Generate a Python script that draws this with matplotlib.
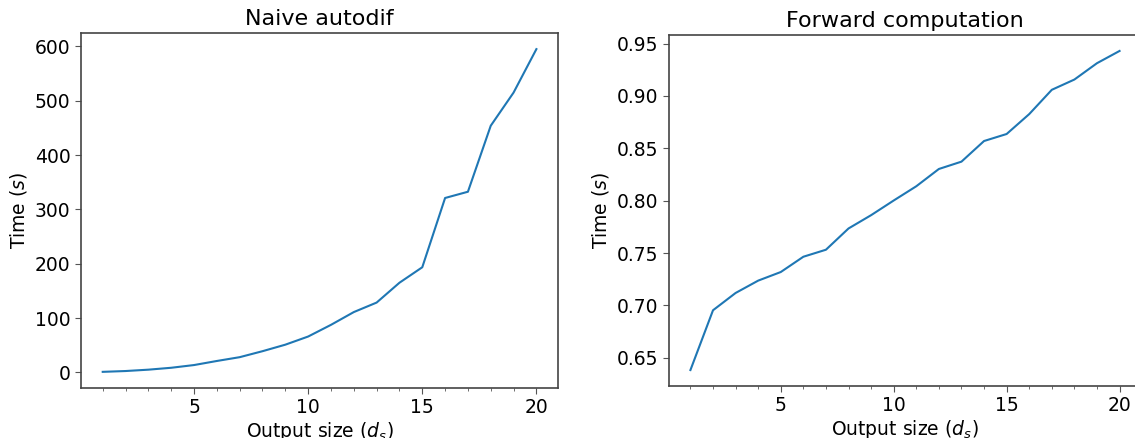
import matplotlib
matplotlib.use("Agg")
import matplotlib.pyplot as plt
from matplotlib.ticker import MultipleLocator, FormatStrFormatter

# output size d_s
output_size = list(range(1, 21))

# time in seconds, naive autodiff
naive_time = [1.0, 2.5, 5.0, 8.5, 13.5, 21.0, 28.0, 39.0, 51.0, 66.0,
              87.5, 111.0, 128.5, 165.0, 193.5, 321.0, 332.5, 454.0, 515.0, 595.0]

# time in seconds, forward computation
forward_time = [0.6383, 0.6954, 0.7119, 0.7237, 0.7319, 0.7465, 0.7532, 0.7735,
                0.7862, 0.8002, 0.8138, 0.8303, 0.8373, 0.8570, 0.8637, 0.8827,
                0.9059, 0.9157, 0.9313, 0.9430]

plt.rcParams["font.family"] = "DejaVu Sans"

fig = plt.figure(figsize=(11.35, 4.38), dpi=100)
ax1 = fig.add_axes([0.0714, 0.1142, 0.4203, 0.8105])
ax2 = fig.add_axes([0.5894, 0.1187, 0.4159, 0.8014])

panels = [
    (ax1, naive_time, "Naive autodif"),
    (ax2, forward_time, "Forward computation"),
]
for ax, values, title in panels:
    ax.plot(output_size, values, color="#1f77b4", lw=1.5)
    ax.set_title(title, fontsize=16)
    ax.set_xlabel("Output size ($d_s$)", fontsize=13.5, labelpad=2)
    ax.set_ylabel("Time ($s$)", fontsize=13.5)
    ax.xaxis.set_major_locator(MultipleLocator(5))
    ax.xaxis.set_minor_locator(MultipleLocator(1))
    ax.tick_params(axis="both", which="major", labelsize=13.5, color="#555555", length=4)
    ax.tick_params(axis="x", which="minor", color="#555555", length=2.5)
    for spine in ax.spines.values():
        spine.set_color("#444444")
        spine.set_linewidth(1.2)

ax2.yaxis.set_major_formatter(FormatStrFormatter("%.2f"))

fig.savefig("out.png", dpi=100)
plt.close(fig)
